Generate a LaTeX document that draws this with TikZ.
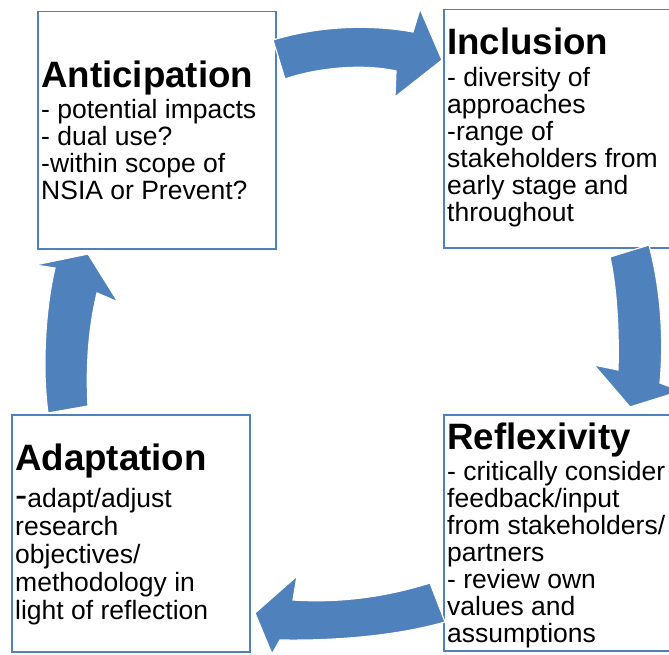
\documentclass[tikz,border=0pt]{standalone}
\usepackage{fontspec}
\setmainfont{Liberation Sans}
\definecolor{boxblue}{RGB}{79,129,189}
\definecolor{arrowblue}{RGB}{79,129,189}
\begin{document}
\begin{tikzpicture}[x=1pt,y=-1pt,
  boxnode/.style={draw=boxblue,line width=1.5pt,rectangle,inner sep=0pt,anchor=north west},
  titletext/.style={anchor=base west,inner sep=0pt,font=\bfseries\fontsize{36.7}{40}\selectfont},
  bodytext/.style={anchor=base west,inner sep=0pt,align=left,font=\fontsize{26.5}{27}\selectfont},
  blockarrow/.style={fill=arrowblue,draw=white,line width=1.2pt,line join=miter}]
\useasboundingbox (0,0) rectangle (669,655);
\clip (0,0) rectangle (669,655);
% boxes
\node[boxnode,minimum width=238pt,minimum height=237pt] (antbox) at (37,11) {};
\node[boxnode,minimum width=257pt,minimum height=238pt] (incbox) at (443,9) {};
\node[boxnode,minimum width=257pt,minimum height=236pt] (refbox) at (443,414) {};
\node[boxnode,minimum width=238pt,minimum height=237pt] (adabox) at (11,414) {};
% arrows
\draw[blockarrow] (273,40) .. controls (318,26) and (370,24) .. (413,32) -- (420,9) -- (442,60) -- (395,97) -- (396,71) .. controls (365,64) and (320,67) .. (285,79) -- cycle;
\draw[blockarrow] (610,257) -- (649,245) .. controls (661,290) and (664,340) .. (660,383) -- (681,391) -- (630,407) -- (594,365) -- (618,370) .. controls (619,330) and (617,290) .. (610,257) -- cycle;
\draw[blockarrow] (430,583) .. controls (385,597) and (340,603) .. (293,600) -- (297,576) -- (255,613) -- (272,654) -- (280,640) .. controls (340,641) and (400,635) .. (445,622) -- cycle;
\draw[blockarrow] (48,413) .. controls (42,370) and (45,310) .. (55,268) -- (35,265) -- (88,254) -- (118,302) -- (97,293) .. controls (88,330) and (86,370) .. (88,406) -- cycle;
% texts (body nodes anchored at the baseline of their last line)
\node[titletext] (anttitle) at (41,88) {Anticipation};
\node[bodytext] (antbody) at (41,200) {- potential impacts\\- dual use?\\-within scope of\\NSIA or Prevent?};
\node[titletext] (inctitle) at (447,55) {Inclusion};
\node[bodytext] (incbody) at (447,222) {- diversity of\\approaches\\-range of\\stakeholders from\\early stage and\\throughout};
\node[titletext] (reftitle) at (447,449) {Reflexivity};
\node[bodytext] (refbody) at (447,642) {- critically consider\\feedback/input\\from stakeholders/\\partners\\- review own\\values and\\assumptions};
\node[titletext] (adatitle) at (15,470) {Adaptation};
\node[bodytext,font=\fontsize{26.5}{28}\selectfont] (adabody) at (15,619) {{\fontsize{36.7}{28}\selectfont -}adapt/adjust\\research\\objectives/\\methodology in\\light of reflection};
\end{tikzpicture}
\end{document}
